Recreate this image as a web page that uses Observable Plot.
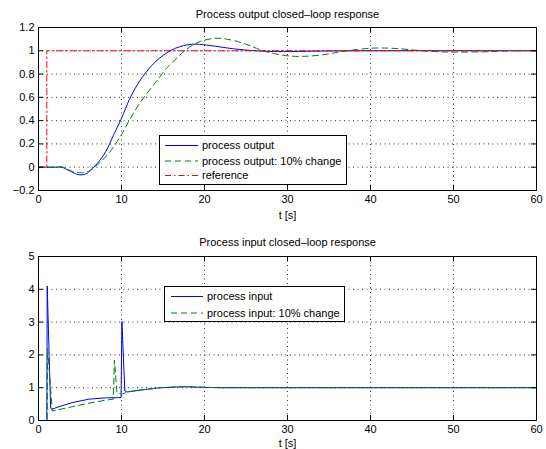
<!DOCTYPE html>
<html>
<head>
<meta charset="utf-8">
<script src="https://cdn.jsdelivr.net/npm/d3@7"></script>
<script src="https://cdn.jsdelivr.net/npm/@observablehq/plot@0.6"></script>
<style>
  html, body { margin: 0; padding: 0; background: white; }
  #wrap { position: relative; width: 546px; height: 449px; overflow: hidden; background: white; }
  #wrap svg { display: block; }
  .legend { position: absolute; }
</style>
</head>
<body>
<div id="wrap"></div>
<script>
// ---------- data ----------
const xTicks = [0, 10, 20, 30, 40, 50, 60];
const yTicksTop = [-0.2, 0, 0.2, 0.4, 0.6, 0.8, 1, 1.2];
const yTicksBottom = [0, 1, 2, 3, 4, 5];

// process output
const tOut = [0, 1, 2, 2.8, 3.7, 4.9, 5.7, 6.5, 7.1, 8.1, 9, 10, 11, 12, 13, 14, 15, 16, 17, 18, 19, 20.7, 23.5, 25.5, 27.5, 29.5, 33.5, 37.5, 45, 60];
const yOut = [0, 0, 0, 0, -0.03, -0.065, -0.057, -0.01, 0.034, 0.134, 0.27, 0.42, 0.59, 0.72, 0.82, 0.9, 0.96, 1.005, 1.035, 1.052, 1.057, 1.045, 1.017, 1.003, 0.995, 0.993, 0.997, 1.0, 1.001, 1.0];
// process output: 10% change
const tOut10 = [0, 1, 2, 3, 4.1, 4.9, 5.7, 6.5, 7.3, 8.1, 9, 10, 11, 12.2, 13.9, 15.5, 16.7, 17.9, 19.5, 21.5, 23.5, 25.1, 26.7, 28.3, 30.3, 31.9, 34.3, 36.3, 38.4, 40.4, 42, 43.6, 45.2, 48.4, 50.4, 53.6, 56.4, 60];
const yOut10 = [0, 0, 0, 0, -0.037, -0.047, -0.045, -0.017, 0.034, 0.09, 0.17, 0.28, 0.41, 0.55, 0.71, 0.855, 0.94, 1.017, 1.08, 1.108, 1.088, 1.054, 1.01, 0.977, 0.955, 0.952, 0.966, 0.99, 1.011, 1.023, 1.023, 1.017, 1.006, 0.991, 0.989, 0.991, 1.0, 1.003];
// reference
const tRef = [0, 1, 1, 60];
const yRef = [0, 0, 1, 1];

// process input
const tIn = [0, 1.0, 1.05, 1.46, 1.58, 2.46, 4.06, 6.07, 8.07, 9.95, 10.05, 10.4, 10.7, 12.3, 14.7, 17.5, 20, 22, 60];
const uIn = [0, 0, 4.1, 0.39, 0.34, 0.42, 0.545, 0.65, 0.69, 0.7, 3.02, 0.9, 0.87, 0.93, 1.0, 1.03, 1.01, 1.0, 1.0];
// process input: 10% change
const tIn10 = [0, 1.05, 1.1, 1.66, 4.06, 6.07, 8.07, 9.0, 9.15, 9.45, 10.1, 10.7, 12.3, 14.7, 17.5, 20, 22, 60];
const uIn10 = [0, 0, 2.19, 0.29, 0.42, 0.525, 0.62, 0.65, 1.84, 0.84, 0.81, 0.87, 0.93, 1.0, 1.03, 1.01, 1.0, 1.0];

// ---------- styles ----------
const FONT = "'Liberation Sans', Arial, Helvetica, sans-serif";
const BLUE = "#0000ff", GREEN = "#008000", RED = "#ff0000";
const DASH = "6,4";
const DASHDOT = "6,3,1.5,3";
const GRID = "1,3.5";
const fmt = d => String(d).replace("-", "\u2212");

function panel({height, mt, mb, yDomain, yTicks, title, titleDy, labelDy, lines}) {
  const W = 546, ml = 38, mr = 10;
  const innerW = W - ml - mr, innerH = height - mt - mb;
  return Plot.plot({
    width: W, height,
    marginLeft: ml, marginRight: mr, marginTop: mt, marginBottom: mb,
    style: {fontFamily: FONT, fontSize: "11px", color: "black", background: "white", overflow: "visible"},
    x: {domain: [0, 60], ticks: xTicks, tickSize: 0, tickPadding: 5, tickFormat: fmt, label: null},
    y: {domain: yDomain, ticks: yTicks, tickSize: 0, tickPadding: 4, tickFormat: fmt, label: null},
    marks: [
      Plot.ruleX(xTicks.slice(1, -1), {stroke: "#333", strokeDasharray: GRID, strokeWidth: 1}),
      Plot.ruleY(yTicks.slice(1, -1), {stroke: "#333", strokeDasharray: GRID, strokeWidth: 1}),
      ...lines,
      Plot.tickX(xTicks, {x: d => d, stroke: "black", insetTop: innerH - 5}),
      Plot.tickX(xTicks, {x: d => d, stroke: "black", insetBottom: innerH - 5}),
      Plot.tickY(yTicks, {y: d => d, stroke: "black", insetRight: innerW - 5}),
      Plot.tickY(yTicks, {y: d => d, stroke: "black", insetLeft: innerW - 5}),
      Plot.frame({stroke: "black", strokeWidth: 1}),
      Plot.text([title], {frameAnchor: "top", dy: titleDy, lineAnchor: "middle", fontSize: 11, fill: "black"}),
      Plot.text(["t [s]"], {frameAnchor: "bottom", dy: labelDy, lineAnchor: "middle", fontSize: 11, fill: "black"})
    ]
  });
}

const topPanel = panel({
  height: 225, mt: 27, mb: 35,
  yDomain: [-0.2, 1.2], yTicks: yTicksTop,
  title: "Process output closed\u2013loop response", titleDy: -13, labelDy: 25,
  lines: [
    Plot.line(tOut, {x: tOut, y: yOut, stroke: BLUE, strokeWidth: 1, curve: "catmull-rom"}),
    Plot.line(tOut10, {x: tOut10, y: yOut10, stroke: GREEN, strokeWidth: 1, strokeDasharray: DASH, curve: "catmull-rom"}),
    Plot.line(tRef, {x: tRef, y: yRef, stroke: RED, strokeWidth: 1, strokeDasharray: DASHDOT})
  ]
});

const bottomPanel = panel({
  height: 224, mt: 31, mb: 29,
  yDomain: [0, 5], yTicks: yTicksBottom,
  title: "Process input closed\u2013loop response", titleDy: -14, labelDy: 23,
  lines: [
    Plot.line(tIn, {x: tIn, y: uIn, stroke: BLUE, strokeWidth: 1}),
    Plot.line(tIn10, {x: tIn10, y: uIn10, stroke: GREEN, strokeWidth: 1, strokeDasharray: DASH})
  ]
});

const wrap = document.getElementById("wrap");
wrap.appendChild(topPanel);
wrap.appendChild(bottomPanel);

// ---------- legends ----------
function legend({left, top, width, height, rows, x0, x1, tx}) {
  const svg = d3.select(wrap).append("svg")
    .attr("class", "legend")
    .style("left", left + "px").style("top", top + "px")
    .attr("width", width + 1).attr("height", height + 1)
    .style("font-family", FONT).style("font-size", "11px");
  svg.append("rect").attr("x", 0.5).attr("y", 0.5).attr("width", width - 1).attr("height", height - 1)
    .attr("fill", "white").attr("stroke", "black");
  rows.forEach(r => {
    const ln = svg.append("line").attr("x1", x0).attr("x2", x1).attr("y1", r.y).attr("y2", r.y)
      .style("stroke", r.color).style("stroke-width", "1px");
    if (r.dash) ln.style("stroke-dasharray", r.dash);
    svg.append("text").attr("x", tx).attr("y", r.y).attr("dy", "0.35em").attr("fill", "black").text(r.label);
  });
}

legend({
  left: 159, top: 135, width: 188, height: 50, x0: 6, x1: 39, tx: 43,
  rows: [
    {y: 10.5, color: BLUE, label: "process output"},
    {y: 26, color: GREEN, dash: DASH, label: "process output: 10% change"},
    {y: 40.5, color: RED, dash: DASHDOT, label: "reference"}
  ]
});

legend({
  left: 164, top: 286, width: 181, height: 36, x0: 7, x1: 39, tx: 43,
  rows: [
    {y: 10.5, color: BLUE, label: "process input"},
    {y: 27, color: GREEN, dash: DASH, label: "process input: 10% change"}
  ]
});
</script>
</body>
</html>
